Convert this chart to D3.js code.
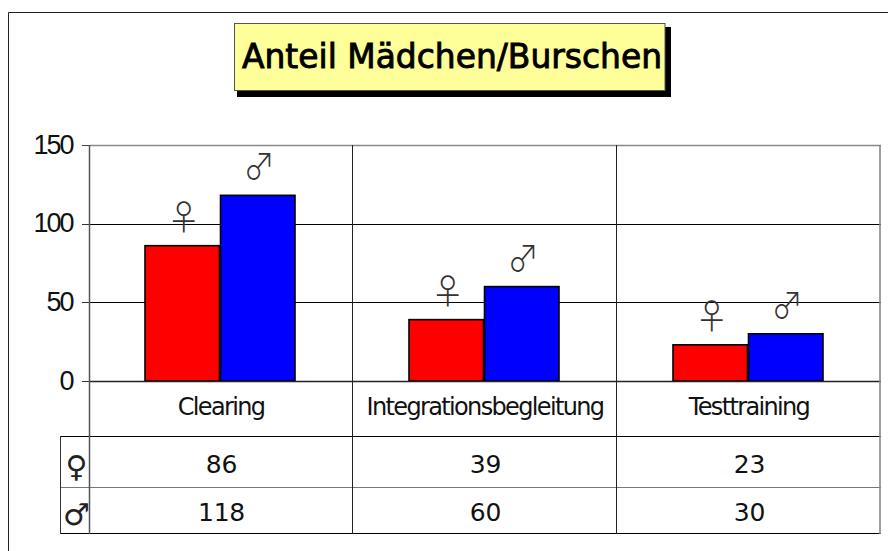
<!DOCTYPE html>
<html><head><meta charset="utf-8">
<script src="https://cdn.jsdelivr.net/npm/d3@7"></script>
<style>html,body{margin:0;padding:0;background:#fff;overflow:hidden}svg{display:block}</style>
</head><body><svg id="c" width="888" height="551"></svg>
<script>
const titleText = "Anteil Mädchen/Burschen";
const categories = ["Clearing","Integrationsbegleitung","Testtraining"];
const femaleValues = [86,39,23];
const maleValues = [118,60,30];
const yTicks = [0,50,100,150];
const femaleSymbol = "\u2640", maleSymbol = "\u2642";

const svg = d3.select("#c");
const pLeft=90,pRight=881,pTop=145,base=381,t1=436,t2=487,t3=533,tl=60;
const x = d3.scaleBand().domain(categories).range([pLeft-1,pRight]);
const y = d3.scaleLinear().domain([0,150]).range([base,pTop]);
const barW = 75.5;
const sans="'DejaVu Sans'", cjk="'Noto Sans CJK JP'";

// outer frame
svg.append("path").attr("d","M8.5 551V12.5H888").attr("fill","none").attr("stroke","#222").attr("stroke-width",1);

// title
svg.append("rect").attr("x",237).attr("y",27).attr("width",434).attr("height",70).attr("fill","#000");
svg.append("rect").attr("x",234.5).attr("y",23.5).attr("width",430.5).attr("height",67).attr("fill","#ffff99").attr("stroke","#555");
svg.append("text").attr("x",452).attr("y",68).attr("text-anchor","middle")
  .attr("font-family",sans).attr("font-size",33).attr("fill","#000").attr("stroke","#000").attr("stroke-width",0.9)
  .attr("textLength",420).attr("lengthAdjust","spacingAndGlyphs").text(titleText);

// gridlines
const grid=svg.append("g");
yTicks.filter(d=>d>0&&d<150).forEach(d=>grid.append("line").attr("x1",pLeft).attr("x2",pRight).attr("y1",Math.round(y(d))+.5).attr("y2",Math.round(y(d))+.5).attr("stroke","#000"));
grid.append("line").attr("x1",pLeft).attr("x2",pRight).attr("y1",145.5).attr("y2",145.5).attr("stroke","#888").attr("stroke-width",1.5);

// bars
const bars=svg.append("g");
const cx=c=>x(c)+x.bandwidth()/2-0.5;
const drawBars=(vals,fill,off)=>bars.selectAll(null).data(vals).enter().append("rect")
  .attr("x",(d,i)=>cx(categories[i])+off).attr("y",d=>y(d)).attr("width",barW-1).attr("height",d=>base-y(d))
  .attr("fill",fill).attr("stroke","#000").attr("stroke-width",1.6);
drawBars(femaleValues,"#ff0000",-barW);
drawBars(maleValues,"#0000ff",0);

// table & vertical lines
const lines=svg.append("g").attr("stroke","#000");
const hline=(a,b,yy,col,w)=>lines.append("line").attr("x1",a).attr("x2",b).attr("y1",yy).attr("y2",yy).attr("stroke",col||"#000").attr("stroke-width",w||1);
const vline=(xx,a,b,col,w)=>lines.append("line").attr("x1",xx).attr("x2",xx).attr("y1",a).attr("y2",b).attr("stroke",col||"#000").attr("stroke-width",w||1);
hline(82,pLeft,145.5,"#444");
yTicks.slice(0,-1).forEach(d=>hline(82,pLeft,Math.round(y(d))+.5,"#333"));
hline(pLeft,pRight,base+.5,"#222",1.4);
hline(tl,pRight,t1+.5); hline(tl,pRight,t2+.5,"#777"); hline(tl,pRight,t3+.5);
vline(tl+.5,t1,t3+1,"#333");
vline(pLeft-.5,pTop,t3+1,"#555",1.5);
categories.slice(1).forEach(c=>vline(Math.round(x(c))-.5,pTop,t3+1,"#222"));
vline(pRight-1,pTop,t3+1,"#888",1.6);

// y tick labels
svg.append("g").selectAll("text").data(yTicks).enter().append("text")
  .attr("x",72.5).attr("y",d=>y(d)+8.5).attr("text-anchor","end").attr("font-family","'Liberation Sans'")
  .attr("font-size",27).attr("letter-spacing",-2).attr("fill","#111").text(d=>d);

// category labels
svg.append("g").selectAll("text").data(categories).enter().append("text")
  .attr("x",d=>cx(d)+0.5).attr("y",415).attr("text-anchor","middle").attr("font-family",sans)
  .attr("font-size",24).attr("letter-spacing",-1.65).attr("fill","#111").text(d=>d);

// gender marks over bars
const mark=(vals,sym,off,dy,sx,sy)=>svg.append("g").selectAll("text").data(vals).enter().append("text")
  .attr("transform",(d,i)=>`translate(${cx(categories[i])+off},${y(d)+dy}) scale(${sx},${sy})`)
  .attr("text-anchor","middle")
  .attr("font-family",cjk).attr("font-weight",300).attr("font-size",34).attr("fill","#333").text(sym);
mark(femaleValues,femaleSymbol,-barW/2+1,-16,1,1);
mark(maleValues,maleSymbol,barW/2+1,-15,0.92,1.08);

// table rows
const rows=[[femaleSymbol,femaleValues,473],[maleSymbol,maleValues,521]];
rows.forEach(([s,vals,yy])=>{
  svg.append("text").attr("x",76.5).attr("y",yy+4).attr("text-anchor","middle").attr("font-family",sans).attr("font-size",30).attr("fill","#222").text(s);
  svg.append("g").selectAll("text").data(vals).enter().append("text")
    .attr("x",(d,i)=>cx(categories[i])+1).attr("y",yy).attr("text-anchor","middle")
    .attr("font-family",sans).attr("font-size",25).attr("letter-spacing",-0.2).attr("fill","#111").text(d=>d);
});
</script></body></html>
